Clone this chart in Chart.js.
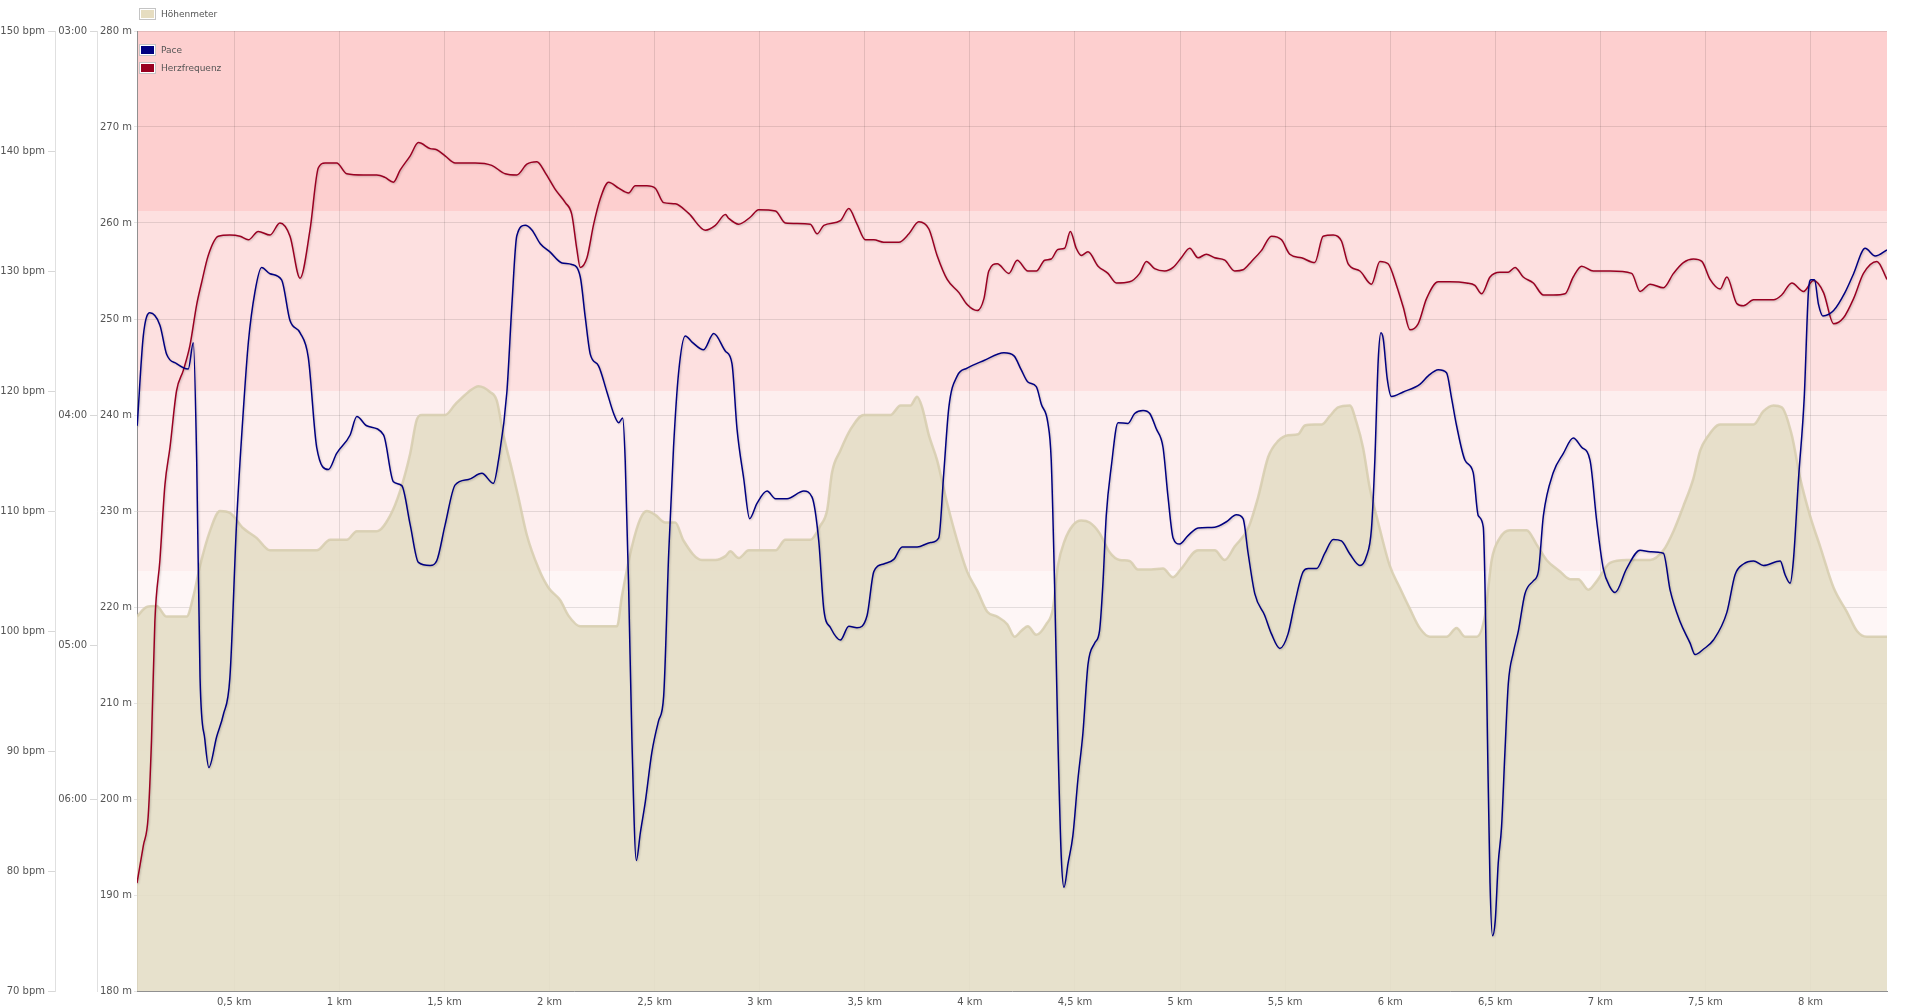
<!DOCTYPE html>
<html>
<head>
<meta charset="utf-8">
<title>Höhenmeter, Pace, Herzfrequenz</title>
<script src="https://cdn.jsdelivr.net/npm/chart.js@4.4.1/dist/chart.umd.min.js"></script>
<style>
    html, body { margin: 0; padding: 0; background: #fff; }
    #wrap { position: relative; width: 1905px; height: 1008px; }
    .legend-item { position: absolute; display: flex; align-items: center; font: 9px "DejaVu Sans", sans-serif; color: #555; white-space: nowrap; }
    .legend-item .swatch { width: 15px; height: 10px; border: 1px solid #c4c4c4; box-shadow: inset 0 0 0 1px #fff; margin-right: 5px; }
</style>
</head>
<body>
<div id="wrap">
    <canvas id="runChart"></canvas>
    <div class="legend-item" style="left:139px; top:8px;"><span class="swatch" style="background:#e6ddc0"></span>Höhenmeter</div>
    <div class="legend-item" style="left:139px; top:44px;"><span class="swatch" style="background:#000080"></span>Pace</div>
    <div class="legend-item" style="left:139px; top:62px;"><span class="swatch" style="background:#990020"></span>Herzfrequenz</div>
</div>
<script>
// Run profile: altitude area, heart rate and pace over distance

// distance axis (km)
const kmMin = 0.037;
const kmMax = 8.364;
const kmTicks = [0.5, 1, 1.5, 2, 2.5, 3, 3.5, 4, 4.5, 5, 5.5, 6, 6.5, 7, 7.5, 8];

// pace axis is linear in speed; ticks are labelled as min/km
const paceTickMinutes = [3, 4, 5, 6];
const paceTickLabels = ['03:00', '04:00', '05:00', '06:00'];

// heart rate zones (bpm)
const hrZoneLow = [90, 105, 120, 135];
const hrZoneHigh = [105, 120, 135, 150];

// [km, m]
const altitude = [
    [0.037,219.0],[0.083,220.0],[0.130,220.1],[0.178,219.0],[0.225,219.0],[0.273,219.0],[0.305,221.1],[0.337,224.3],
    [0.384,227.9],[0.432,230.0],[0.479,229.8],[0.543,228.2],[0.606,227.2],[0.670,225.9],[0.765,225.9],[0.892,225.9],
    [0.956,227.0],[1.035,227.0],[1.083,227.9],[1.178,227.9],[1.241,229.5],[1.289,232.1],[1.337,236.0],[1.368,239.5],
    [1.392,240.0],[1.432,240.0],[1.503,240.0],[1.551,241.1],[1.614,242.4],[1.662,243.0],[1.717,242.4],[1.749,241.5],
    [1.781,237.9],[1.821,234.3],[1.852,231.4],[1.892,227.5],[1.948,224.0],[1.995,222.0],[2.051,220.7],[2.090,219.1],
    [2.146,218.0],[2.202,218.0],[2.265,218.0],[2.321,218.0],[2.344,221.1],[2.392,226.3],[2.432,229.2],[2.463,230.0],
    [2.503,229.6],[2.551,228.8],[2.598,228.8],[2.638,226.9],[2.725,224.9],[2.789,224.9],[2.837,225.3],[2.860,225.8],
    [2.900,225.1],[2.948,225.9],[3.075,225.9],[3.122,227.0],[3.241,227.0],[3.289,228.5],[3.321,230.1],[3.344,234.0],
    [3.384,236.3],[3.432,238.5],[3.495,240.0],[3.559,240.0],[3.622,240.0],[3.670,241.0],[3.717,241.0],[3.749,241.9],
    [3.773,240.8],[3.805,237.9],[3.844,235.3],[3.892,230.8],[3.940,226.9],[3.987,223.7],[4.035,221.7],[4.083,219.5],
    [4.130,219.0],[4.178,218.2],[4.213,216.9],[4.244,217.5],[4.276,218.0],[4.316,217.1],[4.363,218.2],[4.395,219.8],
    [4.419,224.3],[4.451,226.9],[4.490,228.5],[4.530,229.0],[4.570,228.8],[4.617,227.7],[4.665,225.7],[4.713,224.9],
    [4.760,224.8],[4.800,223.9],[4.863,223.9],[4.919,224.0],[4.967,223.1],[5.006,224.0],[5.086,225.9],[5.165,225.9],
    [5.213,224.9],[5.260,226.3],[5.324,228.2],[5.371,231.4],[5.419,235.6],[5.467,237.3],[5.514,237.9],[5.562,238.0],
    [5.594,238.9],[5.641,239.0],[5.673,239.0],[5.713,239.9],[5.752,240.8],[5.808,241.0],[5.840,239.2],[5.871,236.6],
    [5.903,232.4],[5.943,228.8],[5.998,224.3],[6.046,222.0],[6.094,219.8],[6.141,217.8],[6.189,216.9],[6.268,216.9],
    [6.316,217.8],[6.356,216.9],[6.411,216.9],[6.451,219.1],[6.483,224.9],[6.522,227.2],[6.570,228.0],[6.649,228.0],
    [6.697,226.5],[6.744,224.9],[6.808,223.7],[6.856,222.9],[6.895,222.9],[6.943,221.8],[6.983,222.7],[7.046,224.6],
    [7.125,224.9],[7.237,224.9],[7.300,225.9],[7.348,227.9],[7.395,230.5],[7.443,233.4],[7.475,236.3],[7.506,237.6],
    [7.570,239.0],[7.665,239.0],[7.729,239.0],[7.776,240.4],[7.824,241.0],[7.863,240.8],[7.911,237.9],[7.951,233.4],
    [7.998,229.5],[8.046,226.3],[8.110,222.0],[8.173,219.5],[8.221,217.5],[8.268,216.9],[8.364,216.9]
];

// [km, bpm]
const heartRate = [
    [0.037,79.0],[0.067,82.1],[0.090,84.5],[0.106,90.9],[0.122,100.8],[0.146,105.9],[0.170,112.2],[0.194,115.3],
    [0.225,120.0],[0.257,121.7],[0.289,123.8],[0.321,127.2],[0.344,129.0],[0.376,131.3],[0.424,132.9],[0.479,133.0],
    [0.527,132.9],[0.567,132.6],[0.614,133.3],[0.670,133.0],[0.717,134.0],[0.765,132.9],[0.813,129.4],[0.860,133.4],
    [0.900,138.6],[0.932,139.0],[0.987,139.0],[1.035,138.1],[1.114,138.0],[1.178,138.0],[1.217,137.8],[1.257,137.4],
    [1.289,138.4],[1.337,139.6],[1.376,140.7],[1.432,140.2],[1.463,140.1],[1.503,139.6],[1.551,139.0],[1.646,139.0],
    [1.725,138.8],[1.789,138.1],[1.844,138.0],[1.892,138.9],[1.940,139.1],[1.979,138.2],[2.027,136.8],[2.075,135.7],
    [2.106,134.7],[2.130,131.8],[2.146,130.3],[2.178,131.1],[2.210,133.9],[2.241,136.0],[2.281,137.4],[2.329,136.9],
    [2.376,136.5],[2.408,137.1],[2.463,137.1],[2.503,136.9],[2.543,135.7],[2.598,135.6],[2.662,134.8],[2.741,133.4],
    [2.789,133.8],[2.837,134.7],[2.852,134.4],[2.900,133.9],[2.956,134.5],[2.995,135.1],[3.075,135.0],[3.122,134.0],
    [3.241,133.9],[3.273,133.1],[3.305,133.8],[3.384,134.2],[3.424,135.2],[3.463,133.9],[3.503,132.6],[3.543,132.6],
    [3.590,132.4],[3.662,132.4],[3.710,133.1],[3.757,134.1],[3.805,133.5],[3.844,131.3],[3.892,129.3],[3.948,128.2],
    [3.987,127.2],[4.035,126.7],[4.067,127.7],[4.090,130.0],[4.130,130.6],[4.186,129.8],[4.225,130.9],[4.276,130.0],
    [4.316,130.0],[4.356,130.9],[4.387,131.0],[4.419,131.8],[4.451,131.9],[4.478,133.3],[4.506,131.9],[4.530,131.3],
    [4.562,131.6],[4.610,130.4],[4.657,129.8],[4.697,129.0],[4.760,129.1],[4.808,129.8],[4.840,130.8],[4.879,130.2],
    [4.927,130.0],[4.967,130.3],[5.006,131.1],[5.046,131.9],[5.086,131.1],[5.125,131.4],[5.165,131.1],[5.213,130.9],
    [5.260,130.0],[5.300,130.1],[5.340,130.8],[5.387,131.7],[5.435,132.9],[5.483,132.6],[5.522,131.4],[5.578,131.1],
    [5.641,130.7],[5.681,132.9],[5.729,133.0],[5.768,132.5],[5.800,130.6],[5.856,130.0],[5.911,128.9],[5.951,130.8],
    [5.990,130.6],[6.030,128.8],[6.062,127.0],[6.094,125.1],[6.133,125.6],[6.173,127.7],[6.229,129.1],[6.284,129.1],
    [6.363,129.0],[6.403,128.8],[6.435,128.1],[6.475,129.5],[6.522,129.9],[6.562,129.9],[6.594,130.3],[6.633,129.5],
    [6.681,129.0],[6.729,128.0],[6.776,128.0],[6.832,128.1],[6.871,129.5],[6.911,130.4],[6.967,130.0],[7.046,130.0],
    [7.149,129.8],[7.189,128.3],[7.237,128.9],[7.300,128.6],[7.348,129.8],[7.395,130.7],[7.443,131.0],[7.483,130.8],
    [7.522,129.3],[7.570,128.5],[7.602,129.5],[7.649,127.3],[7.681,127.1],[7.729,127.6],[7.824,127.6],[7.863,128.0],
    [7.911,129.0],[7.967,128.3],[8.014,129.2],[8.062,128.2],[8.110,125.6],[8.157,126.1],[8.205,127.7],[8.252,129.8],
    [8.316,130.8],[8.364,129.3]
];

// [km, speed km/h] -> shown on the pace axis
const paceSpeed = [
    [0.038,14.86],[0.067,16.03],[0.098,16.33],[0.146,16.17],[0.178,15.79],[0.225,15.67],[0.281,15.60],[0.305,15.94],
    [0.321,14.41],[0.337,11.58],[0.360,10.77],[0.379,10.41],[0.416,10.81],[0.448,11.10],[0.479,11.58],[0.511,13.61],
    [0.543,15.06],[0.567,15.95],[0.598,16.60],[0.630,16.92],[0.670,16.84],[0.725,16.76],[0.765,16.23],[0.813,16.07],
    [0.852,15.75],[0.892,14.58],[0.948,14.29],[0.987,14.50],[1.051,14.74],[1.083,14.98],[1.130,14.86],[1.210,14.74],
    [1.257,14.13],[1.297,14.08],[1.337,13.57],[1.376,13.08],[1.432,13.04],[1.463,13.10],[1.503,13.57],[1.551,14.09],
    [1.614,14.16],[1.678,14.24],[1.733,14.11],[1.757,14.41],[1.797,15.30],[1.821,16.44],[1.844,17.33],[1.884,17.47],
    [1.916,17.41],[1.956,17.23],[2.003,17.12],[2.059,16.98],[2.106,16.96],[2.146,16.80],[2.170,16.27],[2.194,15.79],
    [2.233,15.64],[2.273,15.30],[2.305,15.02],[2.329,14.90],[2.348,14.96],[2.360,14.41],[2.376,12.80],[2.392,10.77],
    [2.413,9.20],[2.432,9.56],[2.456,9.97],[2.487,10.61],[2.519,11.02],[2.543,11.34],[2.567,13.20],[2.590,14.58],
    [2.614,15.55],[2.646,16.03],[2.678,15.95],[2.733,15.85],[2.781,16.06],[2.837,15.83],[2.868,15.67],[2.892,14.82],
    [2.924,14.17],[2.952,13.65],[2.987,13.85],[3.035,14.01],[3.075,13.91],[3.130,13.91],[3.210,14.01],[3.249,13.93],
    [3.281,13.36],[3.305,12.47],[3.337,12.23],[3.384,12.07],[3.424,12.25],[3.463,12.23],[3.511,12.39],[3.543,12.96],
    [3.590,13.06],[3.638,13.12],[3.678,13.28],[3.749,13.28],[3.813,13.34],[3.852,13.40],[3.876,14.25],[3.900,15.10],
    [3.940,15.51],[3.987,15.61],[4.067,15.71],[4.162,15.81],[4.210,15.77],[4.244,15.59],[4.276,15.43],[4.316,15.37],
    [4.340,15.14],[4.371,14.90],[4.387,14.42],[4.403,12.80],[4.419,10.77],[4.435,9.24],[4.448,8.85],[4.467,9.16],
    [4.490,9.52],[4.514,10.25],[4.538,10.86],[4.562,11.75],[4.594,12.03],[4.617,12.19],[4.633,12.80],[4.649,13.69],
    [4.673,14.33],[4.705,14.90],[4.752,14.89],[4.784,15.02],[4.824,15.06],[4.856,15.02],[4.887,14.82],[4.919,14.58],
    [4.943,13.93],[4.967,13.40],[4.998,13.32],[5.038,13.43],[5.086,13.53],[5.165,13.54],[5.221,13.61],[5.268,13.70],
    [5.300,13.65],[5.324,13.20],[5.356,12.67],[5.403,12.39],[5.435,12.15],[5.475,11.96],[5.514,12.15],[5.546,12.55],
    [5.586,12.96],[5.610,13.00],[5.649,13.00],[5.689,13.20],[5.729,13.38],[5.768,13.36],[5.808,13.19],[5.856,13.04],
    [5.887,13.16],[5.911,13.52],[5.927,14.41],[5.943,15.71],[5.956,16.07],[5.967,15.99],[5.986,15.47],[6.006,15.24],
    [6.062,15.30],[6.141,15.40],[6.181,15.51],[6.229,15.59],[6.268,15.55],[6.292,15.22],[6.316,14.86],[6.356,14.41],
    [6.395,14.25],[6.419,13.69],[6.443,13.54],[6.451,12.80],[6.463,10.77],[6.475,8.91],[6.487,8.22],[6.500,8.42],
    [6.514,9.16],[6.530,9.64],[6.546,10.61],[6.562,11.50],[6.586,11.91],[6.610,12.19],[6.641,12.67],[6.681,12.84],
    [6.705,12.96],[6.729,13.69],[6.776,14.25],[6.824,14.50],[6.871,14.70],[6.911,14.58],[6.951,14.41],[6.983,13.61],
    [7.014,13.00],[7.046,12.76],[7.070,12.69],[7.125,13.00],[7.189,13.24],[7.237,13.22],[7.300,13.20],[7.332,12.72],
    [7.379,12.31],[7.427,12.03],[7.451,11.88],[7.490,11.95],[7.538,12.07],[7.602,12.43],[7.641,12.92],[7.681,13.06],
    [7.729,13.10],[7.776,13.04],[7.856,13.10],[7.879,12.92],[7.903,12.81],[7.919,13.12],[7.943,14.17],[7.970,15.22],
    [7.990,16.60],[8.002,16.76],[8.019,16.76],[8.038,16.44],[8.059,16.29],[8.110,16.36],[8.165,16.60],[8.205,16.84],
    [8.260,17.17],[8.308,17.07],[8.364,17.15]
];

const zoneColors = ['#fef6f6', '#fdeeee', '#fde0e0', '#fdcfcf'];
const gridColor = 'rgba(0,0,0,0.1)';

Chart.defaults.font.family = '"DejaVu Sans", Verdana, sans-serif';
Chart.defaults.font.size = 10;
Chart.defaults.color = '#555';

// heart rate zone bands behind the grid
const zoneBands = {
    id: 'zoneBands',
    beforeDraw(chart) {
        const { ctx, chartArea, scales } = chart;
        const yHr = scales.yHr;
        ctx.save();
        hrZoneLow.forEach((low, i) => {
            const top = Math.max(yHr.getPixelForValue(hrZoneHigh[i]), chartArea.top);
            const bottom = Math.min(yHr.getPixelForValue(low), chartArea.bottom);
            ctx.fillStyle = zoneColors[i];
            ctx.fillRect(chartArea.left, top, chartArea.right - chartArea.left, bottom - top);
        });
        ctx.restore();
    }
};

// soft shadow under the two lines
const lineShadow = {
    id: 'lineShadow',
    beforeDatasetDraw(chart, args) {
        if (args.meta.yAxisID === 'yAlt') return;
        const ctx = chart.ctx;
        ctx.save();
        ctx.shadowColor = 'rgba(0,0,0,0.2)';
        ctx.shadowBlur = 2;
        ctx.shadowOffsetX = 1;
        ctx.shadowOffsetY = 1;
    },
    afterDatasetDraw(chart, args) {
        if (args.meta.yAxisID === 'yAlt') return;
        chart.ctx.restore();
    }
};

const toPoints = rows => rows.map(r => ({ x: r[0], y: r[1] }));

document.getElementById('wrap').querySelector('canvas').style.display = 'block';

new Chart(document.getElementById('runChart').getContext('2d'), {
    type: 'line',
    data: {
        datasets: [{
            label: 'Pace',
            data: toPoints(paceSpeed),
            yAxisID: 'yPace',
            borderColor: '#000080',
            borderWidth: 1.5,
            pointRadius: 0,
            cubicInterpolationMode: 'monotone',
            order: 1
        }, {
            label: 'Herzfrequenz',
            data: toPoints(heartRate),
            yAxisID: 'yHr',
            borderColor: '#990022',
            borderWidth: 1.5,
            pointRadius: 0,
            cubicInterpolationMode: 'monotone',
            order: 2
        }, {
            label: 'Höhenmeter',
            data: toPoints(altitude),
            yAxisID: 'yAlt',
            borderColor: 'rgba(214,204,174,0.85)',
            borderWidth: 2.5,
            backgroundColor: 'rgba(228,221,197,0.88)',
            fill: 'start',
            pointRadius: 0,
            cubicInterpolationMode: 'monotone',
            order: 3
        }]
    },
    options: {
        responsive: true,
        maintainAspectRatio: false,
        animation: false,
        events: [],
        layout: { padding: { top: 31, right: 18, bottom: 0, left: 0 } },
        plugins: {
            legend: { display: false },
            tooltip: { enabled: false }
        },
        scales: {
            x: {
                type: 'linear',
                min: kmMin,
                max: kmMax,
                afterBuildTicks: scale => { scale.ticks = kmTicks.map(v => ({ value: v })); },
                afterFit: scale => { scale.height = 17; },
                ticks: {
                    autoSkip: false,
                    maxRotation: 0,
                    padding: 5,
                    callback: v => String(v).replace('.', ',') + ' km'
                },
                grid: { color: gridColor, drawTicks: false },
                border: { color: '#909090' }
            },
            yAlt: {
                position: 'left',
                weight: 0,
                min: 180,
                max: 280,
                afterFit: scale => { scale.width = 40; },
                ticks: { stepSize: 10, padding: 2, callback: v => v + ' m' },
                grid: { color: gridColor, tickLength: 3 },
                border: { color: '#909090' }
            },
            yPace: {
                position: 'left',
                weight: 1,
                min: 7.5,
                max: 20,
                afterBuildTicks: scale => { scale.ticks = paceTickMinutes.map(m => ({ value: 60 / m })); },
                afterFit: scale => { scale.width = 42; },
                ticks: { autoSkip: false, padding: 3, callback: (v, i) => paceTickLabels[i] },
                grid: { drawOnChartArea: false, color: '#d8d8d8', tickLength: 7 },
                border: { color: '#e0e0e0' }
            },
            yHr: {
                position: 'left',
                weight: 2,
                min: 70,
                max: 150,
                afterFit: scale => { scale.width = 55; },
                ticks: { stepSize: 10, padding: 3, callback: v => v + ' bpm' },
                grid: { drawOnChartArea: false, color: '#d8d8d8', tickLength: 7 },
                border: { color: '#e0e0e0' }
            }
        }
    },
    plugins: [zoneBands, lineShadow]
});
</script>
</body>
</html>
